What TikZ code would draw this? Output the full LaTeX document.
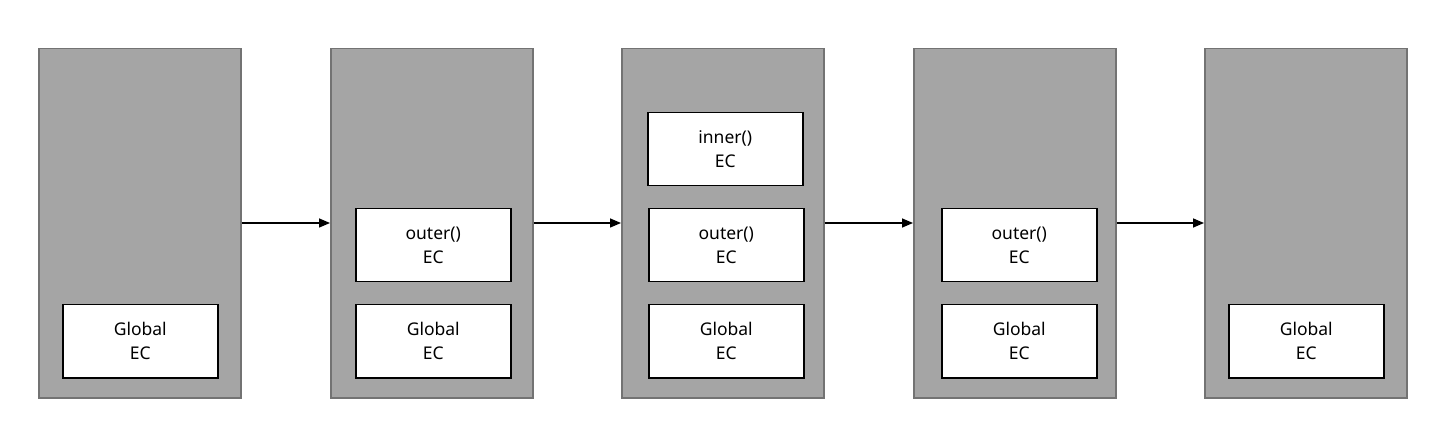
\documentclass[tikz,border=0pt]{standalone}
\usepackage{fontspec}
\setmainfont{Noto Sans}
\usetikzlibrary{arrows.meta}
\definecolor{panelfill}{HTML}{A5A5A5}
\definecolor{paneldraw}{HTML}{737373}
\begin{document}
\begin{tikzpicture}[x=1pt,y=-1pt,
  panel/.style={draw=paneldraw,fill=panelfill,line width=1.5pt,minimum width=202pt,minimum height=349pt,inner sep=0pt,anchor=north west},
  ecbox/.style={draw=black,fill=white,line width=1.5pt,minimum width=155pt,minimum height=73pt,inner sep=0pt,anchor=north west,align=center,font=\fontsize{17.5}{24}\selectfont},
  flow/.style={-{Triangle[length=11pt,width=9pt]},line width=1.5pt}]
\useasboundingbox (0,0) rectangle (1453,435);
\node[panel] (p1) at (38,48) {};
\node[panel] (p2) at (330,48) {};
\node[panel] (p3) at (621,48) {};
\node[panel] (p4) at (913,48) {};
\node[panel] (p5) at (1204,48) {};
\node[ecbox] (g1) at (62,304) {Global\\EC};
\node[ecbox] (o2) at (355,208) {outer()\\EC};
\node[ecbox] (g2) at (355,304) {Global\\EC};
\node[ecbox] (i3) at (647,112) {inner()\\EC};
\node[ecbox] (o3) at (648,208) {outer()\\EC};
\node[ecbox] (g3) at (648,304) {Global\\EC};
\node[ecbox] (o4) at (941,208) {outer()\\EC};
\node[ecbox] (g4) at (941,304) {Global\\EC};
\node[ecbox] (g5) at (1228,304) {Global\\EC};
\draw[flow] (p1.east |- 0,223) -- (p2.west |- 0,223);
\draw[flow] (p2.east |- 0,223) -- (p3.west |- 0,223);
\draw[flow] (p3.east |- 0,223) -- (p4.west |- 0,223);
\draw[flow] (p4.east |- 0,223) -- (p5.west |- 0,223);
\end{tikzpicture}
\end{document}
